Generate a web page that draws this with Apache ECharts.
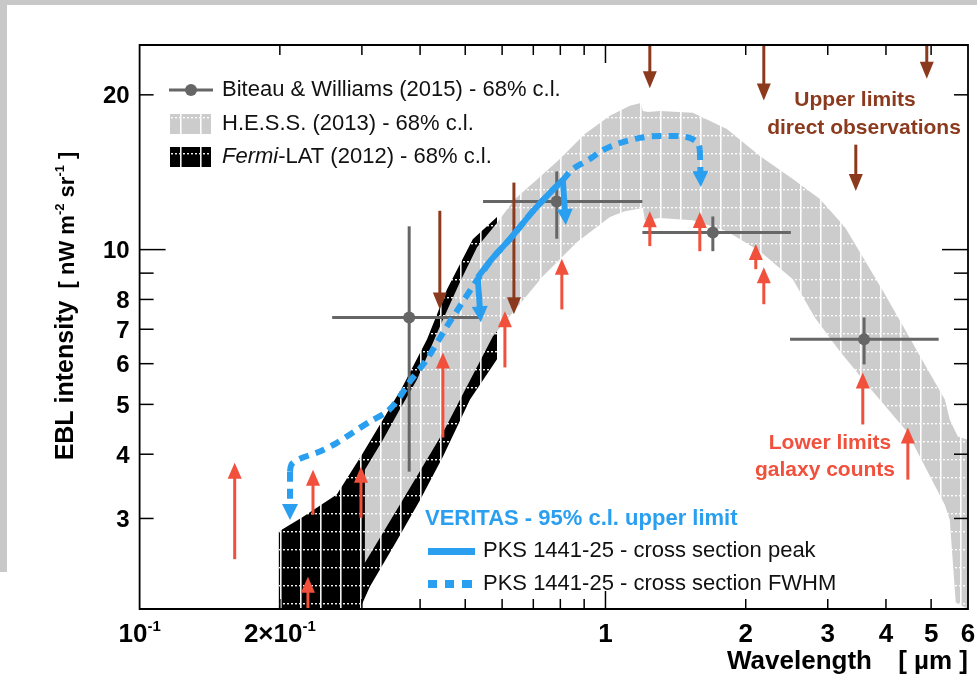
<!DOCTYPE html>
<html>
<head>
<meta charset="utf-8">
<script src="https://cdn.jsdelivr.net/npm/echarts@6/dist/echarts.min.js"></script>
<style>
  html, body { margin: 0; padding: 0; background: #fff; }
  #chart { width: 977px; height: 679px; }
</style>
</head>
<body>
<div id="chart"></div>
<script>
// ---- axes ----
const xRange = [0.1, 6];
const yRange = [2, 25];
const xMinorTicks = [0.2, 0.3, 0.4, 0.5, 0.6, 0.7, 0.8, 0.9, 2, 3, 4, 5];
const xMajorTicks = [1];
const yMinorTicks = [3, 4, 5, 6, 7, 8, 9, 20];
const yMajorTicks = [10];
const xLabelValues = [0.1, 0.2, 1, 2, 3, 4, 5, 6];
const xLabelBase = ['10', '2\u00d710', '1', '2', '3', '4', '5', '6'];
const xLabelExp = ['-1', '-1', '', '', '', '', '', ''];
const yLabelValues = [20, 10, 8, 7, 6, 5, 4, 3];

// ---- Biteau & Williams (2015) points, 68% c.l. ----
const biteauLambda = [0.379, 0.786, 1.70, 3.59];
const biteauEBL = [7.38, 12.4, 10.8, 6.69];
const biteauLambdaLo = [0.259, 0.546, 1.20, 2.49];
const biteauLambdaHi = [0.538, 1.20, 2.50, 5.19];
const biteauEBLLo = [3.70, 10.5, 9.93, 5.98];
const biteauEBLHi = [11.1, 14.2, 11.6, 7.38];

// ---- Fermi-LAT (2012) band edges [lambda, EBL] ----
const fermiUpper = [[0.199, 2.83], [0.224, 3.02], [0.265, 3.34], [0.300, 3.99], [0.340, 4.82],
  [0.367, 5.42], [0.414, 6.69], [0.457, 8.37], [0.519, 10.48], [0.585, 11.57]];
const fermiLower = [[0.585, 6.12], [0.512, 5.11], [0.448, 3.96], [0.400, 3.26], [0.357, 2.72],
  [0.312, 2.21], [0.297, 2.00], [0.199, 2.00]];

// ---- H.E.S.S. (2013) band edges [lambda, EBL] ----
const hessUpper = [[0.3045, 3.73], [0.333, 4.27], [0.362, 4.89], [0.394, 5.59], [0.446, 7.25],
  [0.487, 8.64], [0.530, 10.11], [0.585, 11.26], [0.639, 12.54], [0.723, 13.85], [0.798, 15.01],
  [0.903, 16.79], [1.022, 18.21], [1.128, 19.04], [1.191, 19.29], [1.203, 18.61], [1.233, 18.53],
  [1.308, 18.61], [1.540, 18.45], [1.822, 17.17], [2.145, 15.21], [2.524, 13.72], [2.885, 12.54],
  [3.264, 11.06], [3.567, 9.67], [3.978, 8.19], [4.391, 7.00], [4.846, 5.98], [5.350, 5.11],
  [5.484, 4.67], [5.704, 4.33], [6.0, 4.27]];
const hessLower = [[6.0, 2.0], [5.648, 2.06], [5.484, 2.98], [5.350, 3.19], [4.435, 4.43],
  [3.749, 5.30], [3.184, 6.34], [2.814, 7.38], [2.524, 8.76], [2.145, 9.93], [1.822, 10.86],
  [1.540, 11.41], [1.308, 11.52], [1.215, 11.41], [1.203, 12.05], [1.100, 11.88], [1.022, 11.57],
  [0.868, 10.34], [0.734, 8.88], [0.623, 7.42], [0.573, 6.78], [0.494, 5.23], [0.448, 4.41],
  [0.367, 3.26], [0.3045, 2.46]];

// ---- upper limits, direct observations ----
const upperLimitLambda = [1.245, 2.187, 4.894, 3.446, 0.441, 0.636];
const upperLimitFrom = [25, 25, 25, 16.0, 11.9, 13.5];
const upperLimitTo = [20.6, 19.5, 21.5, 13.0, 7.65, 7.49];

// ---- lower limits, galaxy counts ----
const lowerLimitLambda = [0.160, 0.2298, 0.2356, 0.2987, 0.4477, 0.6083, 0.806, 1.245, 1.594, 2.102, 2.187, 3.567, 4.457];
const lowerLimitFrom = [2.50, 2.00, 3.05, 3.01, 4.31, 5.90, 7.65, 10.16, 9.93, 9.16, 7.83, 4.57, 3.57];
const lowerLimitTo = [3.85, 2.31, 3.73, 3.78, 6.31, 7.59, 9.60, 11.88, 11.83, 10.25, 9.24, 5.77, 4.51];

// ---- VERITAS PKS 1441-25, 95% c.l. upper limits ----
const peakLambda = [0.532, 0.570, 0.623, 0.699, 0.760, 0.810];
const peakEBL = [8.83, 9.58, 10.48, 11.88, 12.89, 13.66];
const peakArrowFrom = [[0.532, 8.83], [0.810, 13.66]];
const peakArrowTo = [[0.540, 7.22], [0.822, 11.16]];
const fwhmLambda = [0.2103, 0.2123, 0.2209, 0.2438, 0.2652, 0.2870, 0.3121, 0.3396, 0.3585, 0.3804,
  0.4137, 0.4567, 0.4871, 0.5194, 0.5376, 0.5702, 0.6234, 0.6985, 0.7598, 0.8101, 0.8514, 0.9258,
  0.9872, 1.074, 1.185, 1.308, 1.423, 1.517, 1.579, 1.594];
const fwhmEBL = [3.70, 3.83, 3.92, 4.05, 4.21, 4.41, 4.63, 4.84, 5.11, 5.54,
  6.12, 7.09, 7.76, 8.49, 8.88, 9.58, 10.48, 11.88, 12.89, 13.66, 14.35, 15.00,
  15.62, 16.12, 16.49, 16.64, 16.64, 16.49, 16.12, 15.62];
const fwhmArrowFrom = [[0.2103, 3.70], [1.594, 15.62]];
const fwhmArrowTo = [[0.2103, 2.98], [1.602, 13.24]];

const FONT = "'Liberation Sans', Arial, Helvetica, sans-serif";
const BLUE = '#2a9ff0';
const BROWN = '#8b3a1e';
const RED = '#f0503c';
const GREY = '#666666';
const LABEL_FONT = 'bold 26px ' + FONT;
const EXP_FONT = 'bold 15px ' + FONT;

// text width helper for placing exponents next to their base
const measureCtx = document.createElement('canvas').getContext('2d');
function textWidth(text, font) { measureCtx.font = font; return measureCtx.measureText(text).width; }

// band fill: solid colour crossed by white solid verticals and dotted horizontals
function makePattern(bg) {
  const c = document.createElement('canvas');
  c.width = 20; c.height = 18;
  const g = c.getContext('2d');
  g.fillStyle = bg; g.fillRect(0, 0, 20, 18);
  g.fillStyle = 'rgba(255,255,255,0.95)';
  g.fillRect(0, 0, 1.6, 18);
  for (let x = 3; x < 20; x += 4) g.fillRect(x, 9, 2, 1.4);
  return c;
}
const hessFill = { image: makePattern('#cccccc'), repeat: 'repeat' };
const fermiFill = { image: makePattern('#000000'), repeat: 'repeat' };

function bandSeries(name, upper, lower, fill, z) {
  return {
    type: 'custom', name, z, silent: true, clip: true,
    data: [upper[0]],
    renderItem(params, api) {
      const pts = upper.concat(lower).map(p => api.coord(p));
      return { type: 'polygon', shape: { points: pts }, style: { fill } };
    }
  };
}

function arrowSeries(name, data, color, o) {
  return {
    type: 'custom', name, z: o.z, silent: true, clip: false,
    data,
    renderItem(params, api) {
      const p0 = api.coord([api.value(0), api.value(1)]);
      const p1 = api.coord([api.value(2), api.value(3)]);
      const dx = p1[0] - p0[0], dy = p1[1] - p0[1];
      const len = Math.hypot(dx, dy) || 1;
      const ux = dx / len, uy = dy / len;
      const bx = p1[0] - ux * o.head, by = p1[1] - uy * o.head;
      const hw = o.width / 2;
      return {
        type: 'group', children: [
          { type: 'line', shape: { x1: p0[0], y1: p0[1], x2: bx + ux, y2: by + uy },
            style: { stroke: color, lineWidth: o.lw, lineDash: o.dash || null, lineCap: 'butt' } },
          { type: 'polygon', shape: { points: [[p1[0], p1[1]], [bx - uy * hw, by + ux * hw], [bx + uy * hw, by - ux * hw]] },
            style: { fill: color } }
        ]
      };
    }
  };
}

const upperLimitData = upperLimitLambda.map((l, i) => [l, upperLimitFrom[i], l, upperLimitTo[i]]);
const lowerLimitData = lowerLimitLambda.map((l, i) => [l, lowerLimitFrom[i], l, lowerLimitTo[i]]);
const peakArrowData = peakArrowFrom.map((p, i) => [p[0], p[1], peakArrowTo[i][0], peakArrowTo[i][1]]);
const fwhmArrowData = fwhmArrowFrom.map((p, i) => [p[0], p[1], fwhmArrowTo[i][0], fwhmArrowTo[i][1]]);
const biteauData = biteauLambda.map((l, i) => [l, biteauEBL[i], biteauLambdaLo[i], biteauLambdaHi[i], biteauEBLLo[i], biteauEBLHi[i]]);

function txtStyle(text, font, fill, align, vAlign, extra) {
  return Object.assign({ text, font, fill, textAlign: align, textVerticalAlign: vAlign, align, verticalAlign: vAlign }, extra || {});
}

const option = {
  animation: false,
  backgroundColor: '#ffffff',
  grid: { left: 139.6, right: 9, top: 45, bottom: 70 },
  xAxis: { type: 'log', logBase: 10, min: xRange[0], max: xRange[1],
    axisLine: { show: false }, axisTick: { show: false }, axisLabel: { show: false }, splitLine: { show: false } },
  yAxis: { type: 'log', logBase: 10, min: yRange[0], max: yRange[1],
    axisLine: { show: false }, axisTick: { show: false }, axisLabel: { show: false }, splitLine: { show: false } },
  graphic: [
    // page border
    { type: 'rect', z: 0, shape: { x: 0, y: 0, width: 977, height: 5 }, style: { fill: '#c8c8c8' } },
    { type: 'rect', z: 0, shape: { x: 0, y: 0, width: 7, height: 572 }, style: { fill: '#c8c8c8' } },
    // legend, top left
    { type: 'line', z: 50, shape: { x1: 169, y1: 90, x2: 213, y2: 90 }, style: { stroke: GREY, lineWidth: 3 } },
    { type: 'circle', z: 50, shape: { cx: 191, cy: 90, r: 6 }, style: { fill: GREY } },
    { type: 'text', z: 50, x: 222, y: 90, style: txtStyle('Biteau & Williams (2015) - 68% c.l.', '22px ' + FONT, '#111', 'left', 'middle') },
    { type: 'rect', z: 50, shape: { x: 170, y: 114, width: 41, height: 20 }, style: { fill: hessFill } },
    { type: 'text', z: 50, x: 222, y: 124, style: txtStyle('H.E.S.S. (2013) - 68% c.l.', '22px ' + FONT, '#111', 'left', 'middle') },
    { type: 'rect', z: 50, shape: { x: 170, y: 147, width: 41, height: 20 }, style: { fill: fermiFill } },
    { type: 'text', z: 50, x: 222, y: 157, style: txtStyle('{i|Fermi}{n|-LAT (2012) - 68% c.l.}', '22px ' + FONT, '#111', 'left', 'middle',
      { rich: { i: { font: 'italic 22px ' + FONT, fill: '#111' }, n: { font: '22px ' + FONT, fill: '#111' } } }) },
    // VERITAS legend
    { type: 'text', z: 50, x: 425, y: 519, style: txtStyle('VERITAS - 95% c.l. upper limit', 'bold 22px ' + FONT, BLUE, 'left', 'middle') },
    { type: 'rect', z: 50, shape: { x: 428, y: 548, width: 47, height: 7 }, style: { fill: BLUE } },
    { type: 'text', z: 50, x: 483, y: 551, style: txtStyle('PKS 1441-25 - cross section peak', '22px ' + FONT, '#111', 'left', 'middle') },
    { type: 'rect', z: 50, shape: { x: 428, y: 580, width: 9, height: 8 }, style: { fill: BLUE } },
    { type: 'rect', z: 50, shape: { x: 445, y: 580, width: 9, height: 8 }, style: { fill: BLUE } },
    { type: 'rect', z: 50, shape: { x: 462, y: 580, width: 10, height: 8 }, style: { fill: BLUE } },
    { type: 'text', z: 50, x: 483, y: 584, style: txtStyle('PKS 1441-25 - cross section FWHM', '22px ' + FONT, '#111', 'left', 'middle') },
    // annotations
    { type: 'text', z: 50, x: 855, y: 100, style: txtStyle('Upper limits', 'bold 21px ' + FONT, BROWN, 'center', 'middle') },
    { type: 'text', z: 50, x: 864, y: 128, style: txtStyle('direct observations', 'bold 21px ' + FONT, BROWN, 'center', 'middle') },
    { type: 'text', z: 50, x: 830, y: 443, style: txtStyle('Lower limits', 'bold 21px ' + FONT, RED, 'center', 'middle') },
    { type: 'text', z: 50, x: 825, y: 470, style: txtStyle('galaxy counts', 'bold 21px ' + FONT, RED, 'center', 'middle') },
    // axis titles
    { type: 'text', z: 50, x: 727, y: 662, style: txtStyle('Wavelength', 'bold 26px ' + FONT, '#000', 'left', 'middle') },
    { type: 'text', z: 50, x: 968, y: 662, style: txtStyle('[ \u00b5m ]', 'bold 26px ' + FONT, '#000', 'right', 'middle') },
    { type: 'text', z: 50, x: 66, y: 306, rotation: Math.PI / 2,
      style: txtStyle('{b|EBL intensity}{r|  [ nW m}{s|-2}{r| sr}{s|-1}{r| ]}', 'bold 25px ' + FONT, '#000', 'center', 'middle', {
        rich: {
          b: { font: 'bold 25px ' + FONT, fill: '#000', verticalAlign: 'bottom' },
          r: { font: 'bold 22px ' + FONT, fill: '#000', verticalAlign: 'bottom' },
          s: { font: 'bold 13px ' + FONT, fill: '#000', verticalAlign: 'top', padding: [0, 0, 9, 0] }
        }
      }) }
  ],
  series: [
    bandSeries('Fermi-LAT (2012)', fermiUpper, fermiLower, fermiFill, 1),
    bandSeries('H.E.S.S. (2013)', hessUpper, hessLower, hessFill, 2),
    {
      type: 'custom', name: 'Biteau & Williams (2015)', z: 3, silent: true, clip: false,
      data: biteauData,
      renderItem(params, api) {
        const c = api.coord([api.value(0), api.value(1)]);
        const l = api.coord([api.value(2), api.value(1)]);
        const r = api.coord([api.value(3), api.value(1)]);
        const b = api.coord([api.value(0), api.value(4)]);
        const t = api.coord([api.value(0), api.value(5)]);
        const st = { stroke: GREY, lineWidth: 3 };
        return {
          type: 'group', children: [
            { type: 'line', shape: { x1: l[0], y1: l[1], x2: r[0], y2: r[1] }, style: st },
            { type: 'line', shape: { x1: t[0], y1: t[1], x2: b[0], y2: b[1] }, style: st },
            { type: 'circle', shape: { cx: c[0], cy: c[1], r: 6 }, style: { fill: GREY } }
          ]
        };
      }
    },
    arrowSeries('upper limits', upperLimitData, BROWN, { z: 4, lw: 3, head: 17, width: 14 }),
    arrowSeries('lower limits', lowerLimitData, RED, { z: 4, lw: 3, head: 16, width: 14 }),
    {
      type: 'line', name: 'PKS 1441-25 FWHM', z: 5, silent: true, showSymbol: false, smooth: 0.3,
      data: fwhmLambda.map((l, i) => [l, fwhmEBL[i]]),
      lineStyle: { color: BLUE, width: 6, type: [10, 7], cap: 'butt' }
    },
    {
      type: 'line', name: 'PKS 1441-25 peak', z: 6, silent: true, showSymbol: false, smooth: 0.3,
      data: peakLambda.map((l, i) => [l, peakEBL[i]]),
      lineStyle: { color: BLUE, width: 6, cap: 'butt' }
    },
    arrowSeries('FWHM arrows', fwhmArrowData, BLUE, { z: 6, lw: 6, head: 16, width: 16, dash: [10, 7] }),
    arrowSeries('peak arrows', peakArrowData, BLUE, { z: 6, lw: 6, head: 16, width: 16 }),
    {
      type: 'custom', name: 'frame', z: 10, silent: true, clip: false,
      data: [[1, 10]],
      renderItem(params, api) {
        const bl = api.coord([xRange[0], yRange[0]]);
        const tr = api.coord([xRange[1], yRange[1]]);
        const L = bl[0], B = bl[1], R = tr[0], T = tr[1];
        const ls = { stroke: '#000', lineWidth: 1.5 };
        const ch = [];
        const seg = (x1, y1, x2, y2) => ch.push({ type: 'line', shape: { x1, y1, x2, y2 }, style: ls });
        ch.push({ type: 'rect', shape: { x: L, y: T, width: R - L, height: B - T }, style: { fill: 'none', stroke: '#000', lineWidth: 1.8 } });
        xMinorTicks.forEach(v => { const x = api.coord([v, yRange[0]])[0]; seg(x, B, x, B - 10); seg(x, T, x, T + 10); });
        xMajorTicks.forEach(v => { const x = api.coord([v, yRange[0]])[0]; seg(x, B, x, B - 18); seg(x, T, x, T + 18); });
        yMinorTicks.forEach(v => { const y = api.coord([xRange[0], v])[1]; seg(L, y, L + 14, y); seg(R, y, R - 14, y); });
        yMajorTicks.forEach(v => { const y = api.coord([xRange[0], v])[1]; seg(L, y, L + 26, y); seg(R, y, R - 26, y); });
        yLabelValues.forEach(v => {
          const y = api.coord([xRange[0], v])[1];
          ch.push({ type: 'text', style: Object.assign({ x: L - 10, y: y + 2 }, txtStyle(String(v), 'bold 24px ' + FONT, '#000', 'right', 'middle')) });
        });
        const ly = B + 26;
        xLabelValues.forEach((v, i) => {
          const x = api.coord([v, yRange[0]])[0];
          const base = xLabelBase[i], exp = xLabelExp[i];
          if (!exp) {
            ch.push({ type: 'text', style: Object.assign({ x, y: ly }, txtStyle(base, LABEL_FONT, '#000', 'center', 'middle')) });
            return;
          }
          const wb = textWidth(base, LABEL_FONT), we = textWidth(exp, EXP_FONT);
          const x0 = x - (wb + we) / 2;
          ch.push({ type: 'text', style: Object.assign({ x: x0, y: ly }, txtStyle(base, LABEL_FONT, '#000', 'left', 'middle')) });
          ch.push({ type: 'text', style: Object.assign({ x: x0 + wb, y: ly - 8 }, txtStyle(exp, EXP_FONT, '#000', 'left', 'middle')) });
        });
        return { type: 'group', children: ch };
      }
    }
  ]
};

const chart = echarts.init(document.getElementById('chart'), null, { renderer: 'canvas' });
chart.setOption(option);
</script>
</body>
</html>
